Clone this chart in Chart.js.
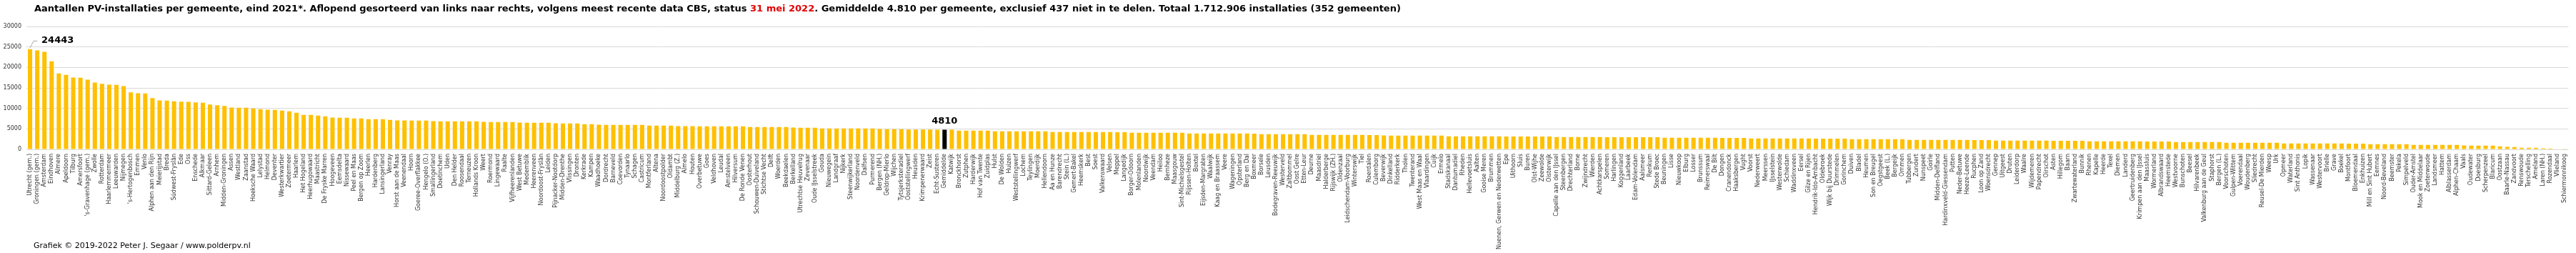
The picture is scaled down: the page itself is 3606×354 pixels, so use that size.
<!DOCTYPE html>
<html>
<head>
<meta charset="utf-8">
<script src="https://cdn.jsdelivr.net/npm/chart.js@4/dist/chart.umd.min.js"></script>
<style>
  html, body { margin: 0; padding: 0; background: #fff; }
  #wrap { width: 3606px; height: 354px; }
</style>
</head>
<body>
<div id="wrap"><canvas id="pvChart" width="3606" height="354"></canvas></div>
<script>
// gemeenten, aflopend gesorteerd (incl. de gemiddelde-balk)
const gemeenten = [
  "Utrecht (gem.)", "Groningen (gem.)", "Amsterdam", "Eindhoven", "Almere", "Apeldoorn", "Tilburg", "Amersfoort",
  "'s-Gravenhage (gem.)", "Zwolle", "Rotterdam", "Haarlemmermeer", "Leeuwarden", "Nijmegen", "'s-Hertogenbosch",
  "Emmen", "Venlo", "Alphen aan den Rijn", "Meierijstad", "Breda", "Súdwest-Fryslân", "Ede", "Oss", "Enschede",
  "Alkmaar", "Sittard-Geleen",
  "Arnhem", "Midden-Groningen", "Assen", "Westland", "Zaanstad", "Hoeksche Waard", "Lelystad", "Helmond", "Deventer",
  "Westerkwartier", "Zoetermeer", "Haarlem", "Het Hogeland", "Heerhugowaard", "Maastricht", "De Fryske Marren",
  "Hoogeveen", "Eemsdelta", "Nissewaard", "Peel en Maas", "Bergen op Zoom", "Heerlen", "Hardenberg", "Lansingerland",
  "Venray", "Horst aan de Maas", "Veenendaal", "Hoorn", "Goeree-Overflakkee", "Hengelo (O.)",
  "Smallingerland", "Doetinchem", "Uden", "Den Helder", "Roosendaal", "Terneuzen", "Hollands Kroon", "Weert",
  "Roermond", "Lingewaard", "Raalte", "Vijfheerenlanden", "West Betuwe", "Medemblik", "Heerenveen",
  "Noordoost-Fryslân", "Leiden", "Pijnacker-Nootdorp", "Midden-Drenthe", "Vlissingen", "Dronten", "Kerkrade",
  "Kampen", "Waadhoeke", "Dordrecht", "Barneveld", "Coevorden", "Tynaarlo", "Schagen", "Castricum",
  "Montferland", "Altena", "Noordoostpolder", "Oldambt", "Middelburg (Z.)", "Almelo", "Houten", "Overbetuwe", "Goes",
  "Veldhoven", "Leudal", "Amstelveen", "Hilversum", "De Ronde Venen", "Oosterhout", "Schouwen-Duiveland",
  "Stichtse Vecht", "Delft", "Woerden", "Beekdaelen", "Berkelland", "Utrechtse Heuvelrug", "Zevenaar",
  "Oude IJsselstreek", "Gouda", "Nieuwegein", "Landgraaf", "Nijkerk", "Steenwijkerland",
  "Noordenveld", "Dalfsen", "Purmerend", "Bergen (NH.)", "Geldrop-Mierlo", "Wijchen", "Tytsjerksteradiel",
  "Ooststellingwerf", "Heusden", "Krimpenerwaard", "Zeist", "Echt-Susteren", "Gemiddelde", "Katwijk", "Bronckhorst",
  "Zutphen", "Harderwijk", "Hof van Twente", "Zuidplas", "Hulst", "De Wolden", "Huizen", "Weststellingwerf", "Lochem",
  "Teylingen", "Moerdijk", "Hellendoorn", "Aa en Hunze", "Barendrecht", "Stein (L.)",
  "Gemert-Bakel", "Heemskerk", "Best", "Soest", "Valkenswaard", "Velsen", "Meppel", "Langedijk", "Borger-Odoorn",
  "Molenlanden", "Noordwijk", "Veendam", "Heiloo", "Bernheze", "Maasgouw", "Sint-Michielsgestel", "Rijssen-Holten",
  "Boxtel", "Eijsden-Margraten", "Waalwijk", "Kaag en Braassem", "Veere", "Wageningen", "Opsterland", "Berg en Dal",
  "Boxmeer", "Borsele", "Leusden", "Bodegraven-Reeuwijk", "Westerveld",
  "Zaltbommel", "Oost Gelre", "Etten-Leur", "Deurne", "Maasdriel", "Halderberge", "Rijswijk (ZH.)", "Oldenzaal",
  "Leidschendam-Voorburg", "Winterswijk", "Tiel", "Roerdalen", "Culemborg", "Beverwijk", "Dinkelland", "Ridderkerk",
  "Tholen", "Twenterand", "West Maas en Waal", "Vlaardingen", "Cuijk", "Ermelo", "Stadskanaal", "Dantumadiel",
  "Rheden", "Hellevoetsluis", "Aalten", "Gooise Meren", "Brummen",
  "Nuenen, Gerwen en Nederwetten", "Epe", "Uithoorn", "Sluis", "Buren", "Olst-Wijhe", "Zeewolde", "Oisterwijk",
  "Capelle aan den IJssel", "Steenbergen", "Drechterland", "Borne", "Zwijndrecht", "Wierden", "Achtkarspelen",
  "Someren", "Harlingen", "Koggenland", "Laarbeek", "Edam-Volendam", "Aalsmeer", "Renkum", "Stede Broec",
  "Beuningen", "Lisse", "Nieuwkoop", "Elburg", "Losser", "Brunssum", "Reimerswaal",
  "De Bilt", "Dongen", "Cranendonck", "Haaksbergen", "Vught", "Voorst", "Nederweert", "Meerssen", "IJsselstein",
  "Westerwolde", "Schiedam", "Waddinxveen", "Eersel", "Gilze en Rijen", "Hendrik-Ido-Ambacht", "Oldebroek",
  "Wijk bij Duurstede", "Drimmelen", "Gorinchem", "Duiven", "Bladel", "Heumen", "Son en Breugel", "Oegstgeest",
  "Beek (L.)", "Bergeijk", "Ommen", "Tubbergen", "Zundert", "Nunspeet",
  "Goirle", "Midden-Delfland", "Hardinxveld-Giessendam", "Putten", "Neder-Betuwe", "Heeze-Leende", "Rucphen",
  "Loon op Zand", "Woensdrecht", "Gennep", "Uitgeest", "Druten", "Leiderdorp", "Waalre", "Wijdemeren", "Papendrecht",
  "Oirschot", "Asten", "Hillegom", "Baarn", "Zwartewaterland", "Bunnik", "Rhenen", "Kapelle", "Heerde", "Texel",
  "Diemen", "Landerd", "Geertruidenberg", "Krimpen aan den IJssel",
  "Maassluis", "Wormerland", "Albrandswaard", "Heemstede", "Westvoorne", "Bunschoten", "Beesel", "Hilvarenbeek",
  "Valkenburg aan de Geul", "Staphorst", "Bergen (L.)", "Voorschoten", "Gulpen-Wittem", "Voerendaal", "Woudenberg",
  "Sliedrecht", "Reusel-De Mierden", "Weesp", "Urk", "Opmeer", "Waterland", "Sint Anthonis", "Lopik", "Wassenaar",
  "Westervoort", "Brielle", "Grave", "Boekel", "Montfoort",
  "Bloemendaal", "Enkhuizen", "Mill en Sint Hubert", "Eemnes", "Noord-Beveland", "Beemster", "Pekela", "Simpelveld",
  "Ouder-Amstel", "Mook en Middelaar", "Zoeterwoude", "Landsmeer", "Hattem", "Alblasserdam", "Alphen-Chaam", "Vaals",
  "Oudewater", "Doesburg", "Scherpenzeel", "Blaricum", "Oostzaan", "Baarle-Nassau", "Zandvoort", "Renswoude",
  "Terschelling", "Ameland", "Laren (NH.)", "Rozendaal", "Vlieland", "Schiermonnikoog"
];

const installaties = [
  24443, 24150, 23800, 21500, 18550, 18200, 17550, 17500, 17000, 16300, 16000, 15800, 15750, 15450, 13900, 13700,
  13650, 12500, 11950, 11900, 11750, 11650, 11600, 11450, 11400, 10950,
  10780, 10600, 10200, 10180, 10150, 10000, 9820, 9660, 9640, 9480, 9300, 8950, 8430, 8410, 8250, 8080, 7740, 7720,
  7700, 7560, 7540, 7390, 7380, 7370, 7210, 7060, 7050, 7040, 7030, 7020,
  6870, 6865, 6860, 6855, 6850, 6845, 6840, 6700, 6690, 6680, 6670, 6660, 6520, 6510, 6500, 6490, 6480, 6350, 6340,
  6330, 6320, 6170, 6160, 6000, 5995, 5990, 5985, 5980, 5975, 5970,
  5820, 5815, 5810, 5800, 5660, 5655, 5650, 5645, 5640, 5635, 5630, 5625, 5620, 5615, 5470, 5465, 5460, 5455, 5450,
  5445, 5300, 5295, 5290, 5285, 5120, 5115, 5110, 5105, 5100,
  5095, 5090, 5085, 4950, 4945, 4940, 4935, 4850, 4840, 4830, 4825, 4815, 4810, 4790, 4600, 4595, 4590, 4585, 4580,
  4420, 4415, 4410, 4405, 4400, 4395, 4390, 4385, 4250, 4245, 4240,
  4235, 4230, 4225, 4220, 4215, 4210, 4205, 4200, 4070, 4065, 4060, 4055, 4050, 4045, 4040, 4035, 3900, 3895, 3890,
  3885, 3880, 3875, 3870, 3865, 3860, 3855, 3720, 3715, 3710, 3705,
  3700, 3695, 3690, 3550, 3545, 3540, 3535, 3530, 3525, 3520, 3515, 3510, 3505, 3380, 3375, 3370, 3365, 3360, 3355,
  3350, 3345, 3340, 3200, 3195, 3190, 3185, 3180, 3175, 3170,
  3165, 3160, 3155, 3150, 3145, 3140, 3135, 3130, 3020, 3015, 3010, 3005, 3000, 2995, 2990, 2985, 2980, 2975, 2970,
  2965, 2960, 2955, 2950, 2850, 2845, 2840, 2835, 2830, 2825, 2820,
  2815, 2810, 2805, 2800, 2795, 2680, 2675, 2670, 2665, 2660, 2655, 2650, 2645, 2640, 2635, 2630, 2625, 2620, 2615,
  2500, 2495, 2490, 2485, 2480, 2475, 2470, 2465, 2330, 2325, 2320,
  2315, 2310, 2305, 2300, 2295, 2290, 2285, 2280, 2275, 2150, 2145, 2140, 2135, 2130, 2125, 2120, 2115, 2110, 2105,
  2100, 2095, 2090, 1980, 1975, 1970, 1965, 1960, 1955, 1950, 1945,
  1940, 1935, 1930, 1925, 1800, 1795, 1790, 1785, 1780, 1775, 1770, 1630, 1625, 1620, 1615, 1610, 1605, 1600, 1595,
  1460, 1455, 1450, 1445, 1440, 1435, 1430, 1425, 1420, 1415,
  1410, 1405, 1280, 1275, 1270, 1265, 1260, 1255, 1110, 1105, 1100, 1095, 1090, 1085, 1080, 940, 935, 930, 925, 920,
  760, 590, 585, 410, 405, 400, 240, 235, 80, 60
];

const yTicks = [0, 5000, 10000, 15000, 20000, 25000, 30000];

const titelDelen = [
  ["Aantallen PV-installaties per gemeente, eind 2021*. Aflopend gesorteerd van links naar rechts, volgens meest recente data CBS, status ", "#000000"],
  ["31 mei 2022", "#e00000"],
  [". Gemiddelde 4.810 per gemeente, exclusief 437 niet in te delen. Totaal 1.712.906 installaties (352 gemeenten)", "#000000"]
];
const voetnoot = "Grafiek \u00a9 2019-2022 Peter J. Segaar / www.polderpv.nl";

const barKleuren = gemeenten.map(g => g === "Gemiddelde" ? "#000000" : "#FFC000");

// titel, voetnoot en de twee waardelabels
const annotaties = {
  id: "annotaties",
  afterDraw(chart) {
    const ctx = chart.ctx;
    const meta = chart.getDatasetMeta(0);
    ctx.save();

    ctx.font = "bold 13px 'DejaVu Sans'";
    ctx.textBaseline = "alphabetic";
    let x = 48;
    titelDelen.forEach(([tekst, kleur]) => {
      ctx.fillStyle = kleur;
      ctx.fillText(tekst, x, 16);
      x += ctx.measureText(tekst).width;
    });

    ctx.font = "11px 'DejaVu Sans'";
    ctx.fillStyle = "#000";
    ctx.fillText(voetnoot, 47, 347);

    // hoogste waarde met lijntje
    const eerste = meta.data[0];
    ctx.strokeStyle = "#a6a6a6";
    ctx.lineWidth = 1;
    ctx.beginPath();
    ctx.moveTo(eerste.x, eerste.y - 2);
    ctx.lineTo(eerste.x + 5, eerste.y - 11.5);
    ctx.lineTo(eerste.x + 10, eerste.y - 11.5);
    ctx.stroke();
    ctx.font = "bold 13px 'DejaVu Sans'";
    ctx.fillStyle = "#000";
    ctx.textBaseline = "middle";
    ctx.fillText(String(installaties[0]), eerste.x + 16, eerste.y - 12);

    // gemiddelde
    const gi = gemeenten.indexOf("Gemiddelde");
    const gb = meta.data[gi];
    ctx.textAlign = "center";
    ctx.textBaseline = "alphabetic";
    ctx.fillText(String(installaties[gi]), gb.x, gb.y - 8);

    ctx.restore();
  }
};

const config = {
  type: "bar",
  data: {
    labels: gemeenten,
    datasets: [
      {
        data: installaties,
        backgroundColor: barKleuren,
        borderWidth: 0,
        barPercentage: 0.6,
        categoryPercentage: 1.0,
      },
    ],
  },
  options: {
    responsive: false,
    animation: false,
    devicePixelRatio: 1,
    layout: { padding: { top: 37, right: 3, bottom: 0, left: 0 } },
    plugins: {
      legend: { display: false },
      title: { display: false },
      tooltip: { enabled: false },
    },
    scales: {
      x: {
        grid: { display: false, drawTicks: false },
        border: { display: false },
        ticks: {
          autoSkip: false,
          minRotation: 90,
          maxRotation: 90,
          padding: 6,
          color: "#333",
          font: { family: "'DejaVu Sans'", size: 8 },
        },
        afterFit(scale) { scale.height = 145; },
      },
      y: {
        min: 0,
        max: 30000,
        afterBuildTicks(scale) { scale.ticks = yTicks.map(v => ({ value: v })); },
        grid: { color: "#d9d9d9", drawTicks: false },
        border: { display: false },
        ticks: {
          padding: 7,
          color: "#333",
          font: { family: "'DejaVu Sans'", size: 8 },
          callback: (v) => String(v),
        },
        afterFit(scale) { scale.width = 37; },
      },
    },
  },
  plugins: [annotaties],
};

const pvChart = new Chart(document.getElementById("pvChart"), config);
</script>
</body>
</html>
